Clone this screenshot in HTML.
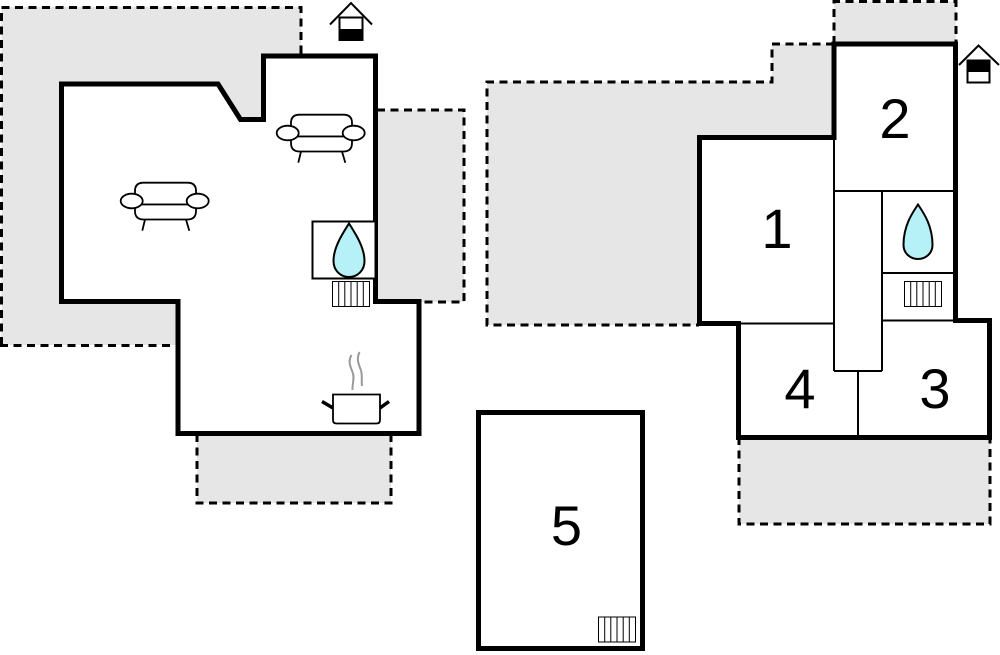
<!DOCTYPE html>
<html>
<head>
<meta charset="utf-8">
<style>
html,body{margin:0;padding:0;background:#fff;}
svg{display:block;}
text{font-family:"Liberation Sans",Arial,sans-serif;}
</style>
</head>
<body>
<svg width="1000" height="655" viewBox="0 0 1000 655" xmlns="http://www.w3.org/2000/svg">
<defs>
  <g id="sofa">
    <path d="M135,204.5 L135,191 Q135,182.7 143.5,182.7 L187.5,182.7 Q196,182.7 196,191 L196,204.5 Z" fill="#fff" stroke="#000" stroke-width="1.8"/>
    <path d="M135,204.5 L135,211 Q135,219.5 143.5,219.5 L187.5,219.5 Q196,219.5 196,211 L196,204.5 Z" fill="#fff" stroke="#000" stroke-width="1.8"/>
    <line x1="145" y1="219.5" x2="142.3" y2="230.7" stroke="#000" stroke-width="1.8"/>
    <line x1="186" y1="219.5" x2="189.3" y2="230.7" stroke="#000" stroke-width="1.8"/>
    <ellipse cx="131.7" cy="201" rx="11" ry="7.3" fill="#fff" stroke="#000" stroke-width="1.8"/>
    <ellipse cx="197.7" cy="201" rx="11" ry="7.3" fill="#fff" stroke="#000" stroke-width="1.8"/>
  </g>
  <g id="rad">
    <rect x="0" y="0" width="37" height="25" fill="#fff" stroke="#000" stroke-width="1"/>
    <line x1="6.2" y1="0" x2="6.2" y2="25" stroke="#000" stroke-width="1"/>
    <line x1="12.3" y1="0" x2="12.3" y2="25" stroke="#000" stroke-width="1"/>
    <line x1="18.5" y1="0" x2="18.5" y2="25" stroke="#000" stroke-width="1"/>
    <line x1="24.7" y1="0" x2="24.7" y2="25" stroke="#000" stroke-width="1"/>
    <line x1="30.8" y1="0" x2="30.8" y2="25" stroke="#000" stroke-width="1"/>
  </g>
</defs>

<!-- ===== Gray terraces ===== -->
<g fill="#e6e6e6" stroke="none">
  <rect x="1.5" y="7" width="299.5" height="338"/>
  <rect x="377" y="110" width="87" height="192"/>
  <rect x="197" y="434" width="194" height="69"/>
  <polygon points="487,82 772,82 772,44 834,44 834,325 487,325"/>
  <rect x="834" y="1.5" width="122" height="43"/>
  <rect x="739" y="437" width="251" height="87"/>
</g>
<g fill="none" stroke="#000" stroke-width="3" stroke-dasharray="8 5.5">
  <path d="M1.5,345 L1.5,7.5 L301,7.5 L301,55"/>
  <path d="M0,345.5 L176,345.5"/>
  <path d="M377,110 L464,110 L464,302 L419,302"/>
  <path d="M197,434 L197,503 L391,503 L391,434"/>
  <path d="M834,44 L772,44 L772,82 L487,82 L487,325 L699,325"/>
  <path d="M834,44 L834,1.5 L956,1.5 L956,44"/>
  <path d="M739,437 L739,524 L990,524 L990,437"/>
</g>

<!-- ===== Left building ===== -->
<polygon points="61.5,84 218,84 240.5,119.5 263.5,119.5 263.5,56 375.5,56 375.5,301.5 419,301.5 419,433.5 178,433.5 178,301.5 61.5,301.5"
  fill="#fff" stroke="#000" stroke-width="5" stroke-linejoin="miter"/>

<use href="#sofa"/>
<use href="#sofa" transform="translate(156,-68)"/>

<!-- fireplace -->
<rect x="312.5" y="221.5" width="63" height="57" fill="#fff" stroke="#000" stroke-width="2"/>
<path d="M349,223.5 C343,233 333.5,247 333.5,261 C333.5,270.5 340.5,277 349,277 C357.5,277 364.5,270.5 364.5,261 C364.5,247 355,233 349,223.5 Z" fill="#b5f1f6" stroke="#000" stroke-width="2"/>
<use href="#rad" transform="translate(332.5,281.5)"/>

<!-- pot -->
<path d="M351.5,355 C348,361 350,366 352.5,372 C355,378 352,384 352.5,390" fill="none" stroke="#9a9a9a" stroke-width="2"/>
<path d="M359.5,352 C356.5,358 358,363 360.5,369 C363,375 361,380 362,386" fill="none" stroke="#9a9a9a" stroke-width="2"/>
<path d="M333,394.5 L380,394.5 L380,420 Q380,423.5 376.5,423.5 L336.5,423.5 Q333,423.5 333,420 Z" fill="#fff" stroke="#000" stroke-width="1.8"/>
<line x1="322" y1="401.5" x2="333" y2="408" stroke="#000" stroke-width="3.5"/>
<line x1="380" y1="408" x2="389" y2="401.5" stroke="#000" stroke-width="3.5"/>

<!-- house icon left -->
<polyline points="330,24.5 351,3 372,24.5" fill="none" stroke="#000" stroke-width="2"/>
<rect x="339.5" y="17.5" width="23" height="22.5" fill="#fff" stroke="#000" stroke-width="2"/>
<rect x="339.5" y="29" width="23" height="11" fill="#000"/>

<!-- ===== Right building ===== -->
<polygon points="699.5,137.5 834,137.5 834,44 955.5,44 955.5,320.5 989.5,320.5 989.5,437.5 738.5,437.5 738.5,323.5 699.5,323.5"
  fill="#fff" stroke="#000" stroke-width="5" stroke-linejoin="miter"/>
<g stroke="#000" stroke-width="2" fill="none">
  <line x1="834" y1="137.5" x2="834" y2="371"/>
  <line x1="882" y1="191" x2="882" y2="371"/>
  <line x1="834" y1="191" x2="955.5" y2="191"/>
  <line x1="882" y1="273" x2="955.5" y2="273"/>
  <line x1="882" y1="320.5" x2="955.5" y2="320.5"/>
  <line x1="738.5" y1="323.5" x2="834" y2="323.5"/>
  <line x1="834" y1="371" x2="882" y2="371"/>
  <line x1="858" y1="371" x2="858" y2="437.5"/>
</g>
<path d="M918,204.5 C913,212 903.5,225 903.5,245 C903.5,253 910,259 918,259 C926,259 932.5,253 932.5,245 C932.5,225 923,212 918,204.5 Z" fill="#b5f1f6" stroke="#000" stroke-width="2"/>
<use href="#rad" transform="translate(904.5,281.5)"/>

<!-- house icon right -->
<polyline points="959,65 978.5,45.5 999,65" fill="none" stroke="#000" stroke-width="2"/>
<rect x="967.5" y="60.5" width="22" height="22" fill="#fff" stroke="#000" stroke-width="2"/>
<rect x="967.5" y="60.5" width="22" height="11.5" fill="#000"/>

<!-- room 5 -->
<rect x="478.5" y="412.5" width="164" height="236" fill="#fff" stroke="#000" stroke-width="5"/>
<use href="#rad" transform="translate(598.5,617)"/>

<!-- labels -->
<g font-size="56" fill="#000" text-anchor="middle">
  <text x="777" y="248">1</text>
  <text x="895" y="138">2</text>
  <text x="935" y="408">3</text>
  <text x="800" y="408">4</text>
  <text x="566.5" y="545">5</text>
</g>
</svg>
</body>
</html>
